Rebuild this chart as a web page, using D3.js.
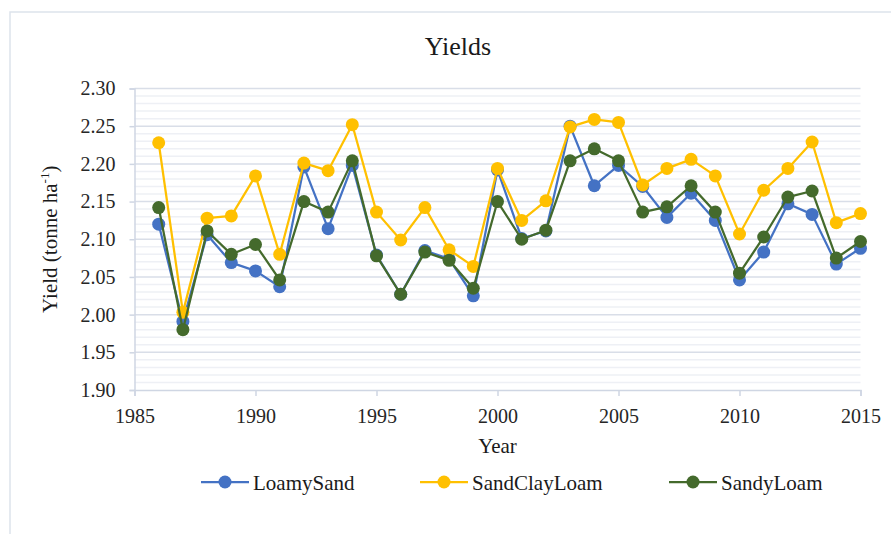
<!DOCTYPE html>
<html>
<head>
<meta charset="utf-8">
<script src="https://cdn.jsdelivr.net/npm/d3@7"></script>
<style>
  html, body { margin: 0; padding: 0; background: #ffffff; }
  svg { display: block; font-family: "Liberation Serif", "Times New Roman", serif; }
</style>
</head>
<body>
<svg id="chart" width="891" height="534"></svg>
<script>
const years = d3.range(1986, 2016);
const loamySand = [2.120, 1.991, 2.106, 2.069, 2.058, 2.037, 2.196, 2.114, 2.198, 2.079, 2.027, 2.085, 2.074, 2.025, 2.192,
                   2.101, 2.111, 2.250, 2.171, 2.198, 2.170, 2.129, 2.161, 2.125, 2.046, 2.083, 2.147, 2.133, 2.067, 2.088];
const sandClayLoam = [2.228, 2.003, 2.128, 2.131, 2.184, 2.080, 2.201, 2.191, 2.252, 2.136, 2.099, 2.142, 2.086, 2.064, 2.194,
                      2.125, 2.151, 2.249, 2.259, 2.255, 2.172, 2.194, 2.206, 2.184, 2.107, 2.165, 2.194, 2.229, 2.122, 2.134];
const sandyLoam = [2.142, 1.980, 2.111, 2.080, 2.093, 2.046, 2.150, 2.136, 2.204, 2.078, 2.027, 2.083, 2.072, 2.035, 2.150,
                   2.100, 2.112, 2.204, 2.220, 2.204, 2.136, 2.143, 2.171, 2.136, 2.055, 2.103, 2.156, 2.164, 2.075, 2.097];
const seriesNames = ["LoamySand", "SandClayLoam", "SandyLoam"];
const seriesColors = ["#4472C4", "#FFC000", "#446A2C"];
const xTicks = [1985, 1990, 1995, 2000, 2005, 2010, 2015];
const yTicks = [1.90, 1.95, 2.00, 2.05, 2.10, 2.15, 2.20, 2.25, 2.30];
const chartTitle = "Yields";
const xTitle = "Year";

(function () {
const seriesValues = [loamySand, sandClayLoam, sandyLoam];
const series = seriesNames.map((name, i) => ({
  name, color: seriesColors[i],
  points: years.map((yr, j) => ({ year: yr, value: seriesValues[i][j] }))
}));

const svg = d3.select("#chart");
const pLeft = 134.5, pRight = 860.5, pTop = 88.5, pBottom = 390;

// chart frame
svg.append("rect").attr("x", 10).attr("y", 12).attr("width", 900).attr("height", 560)
  .attr("fill", "#fff").attr("stroke", "#dde3ec").attr("stroke-width", 1.5);

const x = d3.scaleLinear().domain([1985, 2015]).range([pLeft, pRight]);
const y = d3.scaleLinear().domain([1.90, 2.30]).range([pBottom, pTop]);

// minor gridlines
const minor = d3.range(191, 230, 1).map(v => v / 100).filter(v => Math.round(v * 100) % 5 !== 0);
svg.append("g").selectAll("line").data(minor).join("line")
  .attr("x1", pLeft).attr("x2", pRight)
  .attr("y1", d => y(d)).attr("y2", d => y(d))
  .attr("stroke", "#eef0f5").attr("stroke-width", 1.5);

// major gridlines
svg.append("g").selectAll("line").data(yTicks.filter(v => v > 1.9)).join("line")
  .attr("x1", pLeft).attr("x2", pRight)
  .attr("y1", d => y(d)).attr("y2", d => y(d))
  .attr("stroke", "#d9dee8").attr("stroke-width", 1.5);

// y axis
const yAxis = svg.append("g").attr("transform", `translate(${pLeft},0)`)
  .call(d3.axisLeft(y).tickValues(yTicks).tickFormat(d3.format(".2f")).tickSize(5).tickPadding(14));
yAxis.select(".domain").attr("stroke", "#cfd6e3").attr("stroke-width", 1.5);
yAxis.selectAll(".tick line").attr("stroke", "#cfd6e3").attr("stroke-width", 1.5);
yAxis.selectAll(".tick text").attr("font-size", 20).attr("fill", "#262626")
  .attr("font-family", "Liberation Serif");

// x axis
const xAxis = svg.append("g").attr("transform", `translate(0,${pBottom})`)
  .call(d3.axisBottom(x).tickValues(xTicks).tickFormat(d3.format("d")).tickSize(6).tickPadding(13));
xAxis.select(".domain").attr("stroke", "#cfd6e3").attr("stroke-width", 1.5);
xAxis.selectAll(".tick line").attr("stroke", "#cfd6e3").attr("stroke-width", 1.5);
xAxis.selectAll(".tick text").attr("font-size", 20).attr("fill", "#262626")
  .attr("font-family", "Liberation Serif");

// series
const line = d3.line().x(d => x(d.year)).y(d => y(d.value));
series.forEach(s => {
  const g = svg.append("g");
  g.append("path").datum(s.points).attr("d", line)
    .attr("fill", "none").attr("stroke", s.color).attr("stroke-width", 2.25)
    .attr("stroke-linejoin", "round");
  g.selectAll("circle").data(s.points).join("circle")
    .attr("cx", d => x(d.year)).attr("cy", d => y(d.value)).attr("r", 6.5)
    .attr("fill", s.color);
});

// title
svg.append("text").attr("x", 458).attr("y", 55).attr("text-anchor", "middle")
  .attr("font-size", 26).attr("fill", "#1a1a1a").text(chartTitle);

// x title
svg.append("text").attr("x", (pLeft + pRight) / 2).attr("y", 453).attr("text-anchor", "middle")
  .attr("font-size", 21).attr("fill", "#1a1a1a").text(xTitle);

// y title
const yt = svg.append("text").attr("transform", `translate(57,${(pTop + pBottom) / 2}) rotate(-90)`)
  .attr("text-anchor", "middle").attr("font-size", 21).attr("fill", "#1a1a1a");
yt.append("tspan").text("Yield (tonne ha");
yt.append("tspan").attr("dy", -8).attr("font-size", 13).text("-1");
yt.append("tspan").attr("dy", 8).text(")");

// legend
const legendX = [201, 420, 669];
const legendY = 482;
series.forEach((s, i) => {
  const g = svg.append("g").attr("transform", `translate(${legendX[i]},${legendY})`);
  g.append("line").attr("x1", 0).attr("x2", 48).attr("y1", 0).attr("y2", 0)
    .attr("stroke", s.color).attr("stroke-width", 2.25);
  g.append("circle").attr("cx", 24).attr("cy", 0).attr("r", 6.5).attr("fill", s.color);
  g.append("text").attr("x", 52).attr("y", 8).attr("font-size", 21).attr("fill", "#1a1a1a").text(s.name);
});
})();
</script>
</body>
</html>
